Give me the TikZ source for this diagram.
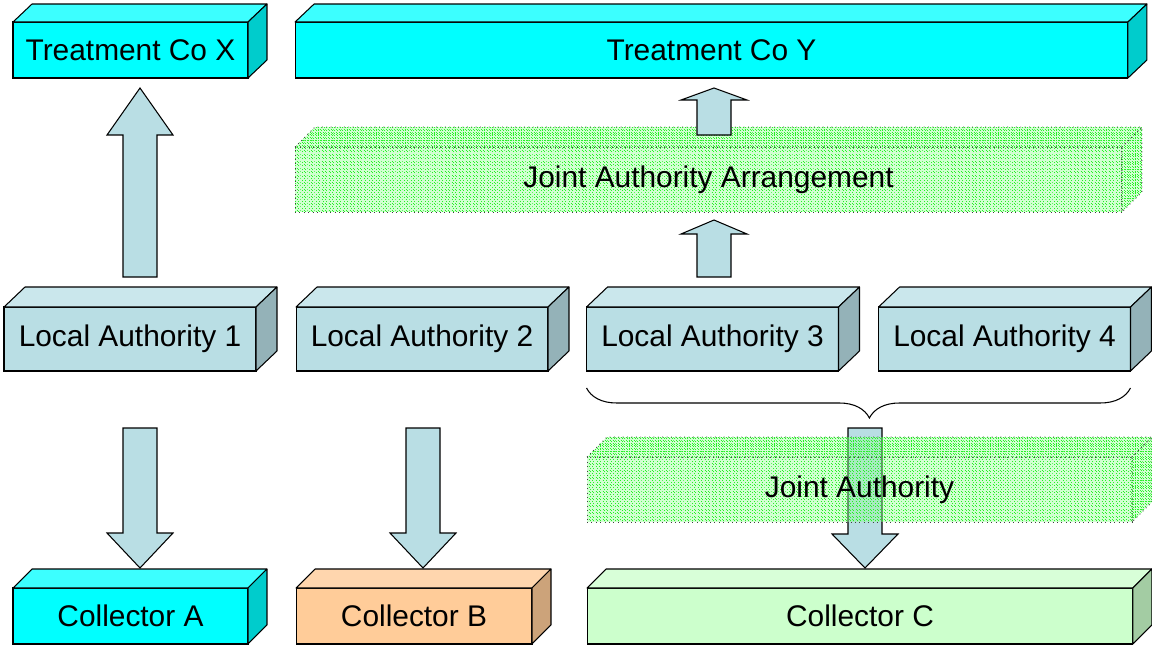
\documentclass[tikz,border=0pt]{standalone}
\usepackage{fontspec}
\setmainfont{Liberation Sans}
\usetikzlibrary{calc,patterns.meta,decorations.pathreplacing}

\definecolor{cyanfront}{RGB}{0,255,255}
\definecolor{cyantop}{RGB}{60,255,255}
\definecolor{cyanside}{RGB}{0,204,204}
\definecolor{lafront}{RGB}{185,222,228}
\definecolor{latop}{RGB}{202,231,236}
\definecolor{laside}{RGB}{148,178,184}
\definecolor{cbfront}{RGB}{255,204,153}
\definecolor{cbtop}{RGB}{255,214,174}
\definecolor{cbside}{RGB}{204,163,122}
\definecolor{ccfront}{RGB}{204,255,204}
\definecolor{cctop}{RGB}{216,255,216}
\definecolor{ccside}{RGB}{163,204,163}
\definecolor{jagreen}{RGB}{40,240,40}

% top and side faces of a box node
\newcommand{\boxsides}[5]{%
  \draw[#4] (#1.north west) -- ++(#2,-#3) -- ([shift={(#2,-#3)}]#1.north east) -- (#1.north east) -- cycle;
  \draw[#5] (#1.north east) -- ([shift={(#2,-#3)}]#1.north east) -- ([shift={(#2,-#3)}]#1.south east) -- (#1.south east) -- cycle;}

% fat arrow: head length, from, to
\newcommand{\blockarrow}[3]{%
  \coordinate (hb) at ($(#3)!#1!(#2)$);
  \draw[fatarrow] ($(#2)!0.34cm!90:(#3)$) -- ($(hb)!0.34cm!90:(#3)$) -- ($(hb)!0.66cm!90:(#3)$)
    -- (#3) -- ($(hb)!0.66cm!-90:(#3)$) -- ($(hb)!0.34cm!-90:(#3)$) -- ($(#2)!0.34cm!-90:(#3)$) -- cycle;}

\tikzset{
  facebox/.style={draw=black, line width=0.6pt, inner sep=0pt, outer sep=0pt,
    font=\fontsize{17}{20}\selectfont},
  face/.style={draw=black, line width=0.6pt, line join=round},
  cyanbox/.style={facebox, fill=cyanfront},
  labox/.style={facebox, fill=lafront, minimum width=5.04cm, minimum height=1.28cm},
  cbbox/.style={facebox, fill=cbfront},
  ccbox/.style={facebox, fill=ccfront},
  jointface/.style={draw=black!75, dotted, line width=0.5pt,
    preaction={fill=green!45, fill opacity=0.4},
    pattern={Hatch[angle=0, distance=#1, line width=0.5pt]}, pattern color=jagreen},
  jointface/.default=2pt,
  jointbox/.style={jointface, inner sep=0pt, outer sep=0pt, font=\fontsize{17}{20}\selectfont},
  fatarrow/.style={draw=black, line width=0.6pt, line join=miter, fill=lafront},
  brace/.style={draw=black, line width=0.6pt,
    decorate, decoration={brace, mirror, amplitude=0.6cm, aspect=0.52}}
}

\begin{document}
\begin{tikzpicture}[x=0.02cm, y=-0.02cm]
  \useasboundingbox (0,0) rectangle (1152,646);

  % treatment companies
  \node[cyanbox, minimum width=4.7cm, minimum height=1.12cm] (tcx) at (130.5,50) {Treatment Co X};
  \boxsides{tcx}{19}{18}{face, fill=cyantop}{face, fill=cyanside}
  \node[cyanbox, minimum width=16.66cm, minimum height=1.12cm] (tcy) at (711.5,50) {Treatment Co Y};
  \boxsides{tcy}{19}{18}{face, fill=cyantop}{face, fill=cyanside}

  % joint authority arrangement
  \node[jointbox, minimum width=16.54cm, minimum height=1.3cm] (jaa) at (708.5,179.5) {Joint Authority Arrangement};
  \boxsides{jaa}{20}{20}{jointface=1.5pt}{jointface=1.5pt}

  % local authorities
  \node[labox] (la1) at (130,339) {Local Authority 1};
  \node[labox] (la2) at (422,339) {Local Authority 2};
  \node[labox] (la3) at (712.5,339) {Local Authority 3};
  \node[labox] (la4) at (1004.5,339) {Local Authority 4};
  \foreach \n in {la1,la2,la3,la4}
    \boxsides{\n}{21}{20}{face, fill=latop}{face, fill=laside};

  % collectors
  \node[cyanbox, minimum width=4.7cm, minimum height=1.12cm] (ca) at (130.5,616) {Collector A};
  \boxsides{ca}{19}{19}{face, fill=cyantop}{face, fill=cyanside}
  \node[cbbox, minimum width=4.72cm, minimum height=1.12cm] (cb) at (414,616) {Collector B};
  \boxsides{cb}{19}{19}{face, fill=cbtop}{face, fill=cbside}
  \node[ccbox, minimum width=10.92cm, minimum height=1.12cm] (cc) at (860,616) {Collector C};
  \boxsides{cc}{19}{19}{face, fill=cctop}{face, fill=ccside}

  % brace under la3 and la4
  \coordinate (brl) at ([yshift=-0.34cm]la3.south west);
  \coordinate (brr) at ([yshift=-0.34cm]la4.south east);
  \draw[brace] (brl) -- (brr);

  % arrow ends
  \coordinate (la1up) at (140,277);
  \coordinate (tcxin) at (140,88);
  \coordinate (la1dn) at (140,428);
  \coordinate (cain) at (140,568);
  \coordinate (la2dn) at (423,428);
  \coordinate (cbin) at (423,568);
  \coordinate (la3up) at (714,277);
  \coordinate (jaain) at (714,220);
  \coordinate (jaaup) at (714,135);
  \coordinate (tcyin) at (714,88);
  \coordinate (brdn) at (865,428);
  \coordinate (ccin) at (865,568);

  \blockarrow{0.94cm}{la1up}{tcxin}
  \blockarrow{0.7cm}{la1dn}{cain}
  \blockarrow{0.7cm}{la2dn}{cbin}
  \blockarrow{0.28cm}{la3up}{jaain}
  \blockarrow{0.24cm}{jaaup}{tcyin}
  \blockarrow{0.68cm}{brdn}{ccin}

  % joint authority (over the arrow)
  \node[jointbox, minimum width=10.9cm, minimum height=1.3cm] (ja) at (859.5,489.5) {Joint Authority};
  \boxsides{ja}{20}{20}{jointface=1.5pt}{jointface=1.5pt}
\end{tikzpicture}
\end{document}
